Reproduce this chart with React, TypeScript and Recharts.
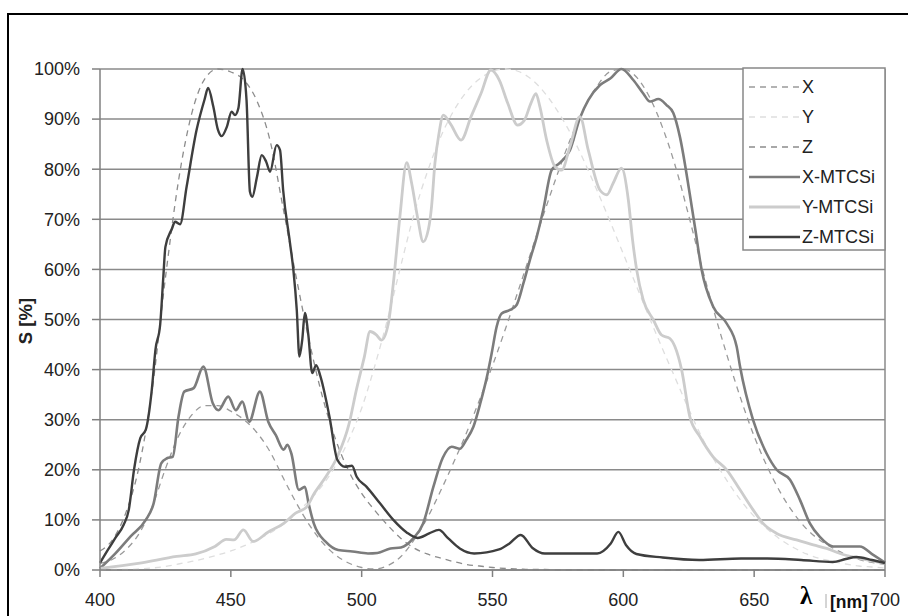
import { LineChart, Line, XAxis, YAxis, CartesianGrid, ReferenceLine } from "recharts";

// CIE 1931 colour matching functions (% of peak)
const cieNm = [
  400, 405, 410, 415, 420, 425, 430, 435, 440, 445, 450, 455, 460, 465, 470, 475, 480, 485, 490, 495,
  500, 505, 510, 515, 520, 525, 530, 535, 540, 545, 550, 555, 560, 565, 570, 575, 580, 585, 590, 595,
  600, 605, 610, 615, 620, 625, 630, 635, 640, 645, 650, 655, 660, 665, 670, 675, 680, 685, 690, 695, 700,
];
const xBar = [
  1.3, 2.2, 4.1, 7.3, 12.7, 20.2, 26.7, 30.9, 32.8, 32.8, 31.7, 30.0, 27.4, 23.6, 18.4, 13.4, 9.0, 5.5, 3.0, 1.4,
  0.5, 0.2, 0.9, 2.7, 6.0, 10.3, 15.6, 21.3, 27.3, 33.9, 40.8, 48.2, 56.0, 63.9, 71.7, 79.3, 86.3, 92.1, 96.6, 99.5,
  100, 98.4, 94.4, 88.3, 80.4, 70.7, 60.5, 51.0, 42.2, 34.0, 26.7, 20.6, 15.5, 11.4, 8.2, 6.0, 4.4, 3.1, 2.1, 1.5, 1.1,
];
const yBar = [
  0.0, 0.1, 0.1, 0.2, 0.4, 0.7, 1.2, 1.7, 2.3, 3.0, 3.8, 4.8, 6.0, 7.4, 9.1, 11.3, 13.9, 16.9, 20.8, 25.9,
  32.3, 40.7, 50.3, 60.8, 71.0, 79.3, 86.2, 91.5, 95.4, 98.0, 99.5, 100, 99.5, 97.9, 95.2, 91.5, 87.0, 81.6, 75.7, 69.5,
  63.1, 56.7, 50.3, 44.1, 38.1, 32.1, 26.5, 21.7, 17.5, 13.8, 10.7, 8.2, 6.1, 4.5, 3.2, 2.3, 1.7, 1.2, 0.8, 0.6, 0.4,
];
const zBar = [
  3.8, 6.2, 11.6, 20.8, 36.2, 58.3, 77.7, 91.0, 98.0, 100, 99.4, 97.8, 93.6, 85.7, 72.2, 58.4, 45.6, 34.6, 26.1, 19.8,
  15.3, 11.9, 8.9, 6.3, 4.4, 3.2, 2.4, 1.7, 1.1, 0.8, 0.5, 0.3, 0.2, 0.1, 0.1, 0, 0, 0, 0, 0,
  0, 0, 0, 0, 0, 0, 0, 0, 0, 0, 0, 0, 0, 0, 0, 0, 0, 0, 0, 0, 0,
];

// measured sensor curves
const xMtcsiNm = [
  400, 405.9, 411.7, 417.5, 420.5, 423.4, 425.6, 427.8, 430, 432.2, 435.8, 439.5, 443.1, 445.3, 449, 451.9,
  454.4, 457, 461.1, 464.3, 467.2, 470.2, 471.6, 473.1, 476, 478.3, 479.7, 481.7, 486.5, 491, 496.5, 502.4,
  506, 511, 515, 519.7, 523.5, 527.4, 531, 534.4, 537.5, 540, 542.7, 545.5, 547.8, 549.7, 551.6, 553.5,
  556.7, 559.2, 561.8, 564.3, 566.9, 569.4, 572.6, 575.6, 579.6, 583.4, 586.6, 591.1, 595, 599.3, 603.8,
  607.6, 610.2, 613.4, 616.5, 619.1, 621.6, 625.4, 627.5, 629.9, 634.3, 639.5, 643.3, 644.6, 649.6, 654.7,
  658.6, 663.7, 667.5, 671.3, 675.1, 680.2, 690.4, 695.5, 700,
];
const xMtcsiVal = [
  0.3, 3.3, 6.7, 10, 13.3, 21.3, 22.3, 22.6, 30.6, 35.6, 36.3, 40.6, 33.3, 31.9, 34.6, 31.9,
  33.6, 29.6, 35.6, 29.6, 26.9, 24, 25, 23.3, 16, 16.6, 13.3, 9.3, 5.5, 4, 3.7, 3.3,
  3.4, 4.3, 4.5, 6.3, 9.3, 16.6, 22.4, 24.6, 24.2, 26, 28.6, 33.6, 38.4, 43.3, 48.6, 51.2,
  51.9, 52.9, 57.2, 61.9, 66.5, 71.9, 79.8, 81.2, 83.8, 90.2, 93.8, 96.8, 98.1, 100, 97.8,
  95.1, 93.5, 94, 92.8, 91.2, 86.5, 75, 68, 60, 52.6, 49.2, 44.6, 40.6, 29.9, 23.3,
  20, 18, 14, 9.3, 6.6, 4.7, 4.7, 3, 1.5,
];

const yMtcsiNm = [
  400, 414.6, 429.3, 436.6, 443.9, 448.3, 451.2, 454.8, 458.5, 464.3, 470.2, 474.6, 479, 481.9, 486.3, 490.7,
  495.1, 498, 501, 503.2, 505.5, 507.6, 510.2, 512.1, 514.6, 517.2, 519.1, 521.5, 523.5, 525.5, 526.7, 528,
  529.5, 531.2, 534, 538, 541.8, 545.6, 549.4, 552.6, 555.8, 559.6, 562.2, 564.7, 566.6, 568.1, 570.7, 573.9,
  576.4, 579.6, 583.4, 586.6, 591.1, 593.7, 596.1, 599.3, 601.9, 603.5, 605.1, 607.6, 611.5, 614.6, 617.8,
  619.7, 622.3, 625.4, 629.3, 634.3, 639.5, 644.6, 649.6, 653.4, 658.6, 666.2, 672.6, 677.7, 682.8, 690.4, 700,
];
const yMtcsiVal = [
  0.3, 1.3, 2.7, 3.2, 4.7, 6.1, 6, 8, 5.7, 7.6, 9.3, 11.3, 12.6, 15.3, 18.6, 22.6,
  29, 36, 42.5, 47.6, 47, 45.9, 49.2, 57.2, 70.5, 81.3, 77.2, 70, 65.5, 68, 72.5, 81.2,
  87, 90.8, 89, 85.8, 90.5, 95.1, 99.8, 97.8, 93.2, 88.8, 89.8, 93.2, 95.1, 92.5, 85.8, 80.5,
  79.8, 84.5, 90.5, 83.8, 75.8, 74.9, 77.2, 80.2, 73.9, 66, 59.9, 53.9, 49.9, 46.9, 46.2,
  44.6, 39.9, 30.6, 26.6, 22.6, 20, 16, 12, 9.3, 7.3, 6, 5, 4.3, 3.3, 2.3, 1.3,
];

const zMtcsiNm = [
  400, 403, 406, 409, 411, 413, 415.4, 417.5, 419.8, 421.2, 423, 424.2, 425, 427.4, 428.7, 430.6,
  433.1, 436.9, 440, 441.3, 443.3, 445, 446.5, 448.5, 450.3, 451.6, 452.9, 454.5, 456, 457.3, 458.2, 460,
  461.8, 463.5, 465, 467.5, 468.8, 470, 472.6, 473.9, 475.2, 476.2, 477.3, 478.3, 479.6, 481.1, 482.6, 484.1,
  487.7, 490.7, 493.6, 496.3, 498.1, 501.9, 507, 512.1, 517.2, 521.4, 525.8, 529.5, 533.1, 537.5, 543,
  552.5, 556.5, 560.8, 565.3, 570, 590, 595.2, 598.1, 601, 605, 615, 629, 645, 655, 668, 680, 685, 689, 695, 700,
];
const zMtcsiVal = [
  1.4, 4, 6.5, 9, 12, 20, 26.3, 28, 36, 44, 49, 58.5, 64.5, 68, 69.5, 69,
  76.5, 87.8, 94, 96.2, 92.5, 88, 86.6, 88.5, 91.5, 90.8, 92.2, 100, 93.8, 75.5, 74.5, 78.5,
  82.8, 81.5, 79.5, 84.8, 83.8, 75.8, 65.3, 59.9, 51.9, 42.6, 46, 51.3, 47, 39.3, 40.9, 38.9,
  30.6, 22, 20.6, 20.8, 18.6, 16.6, 13.3, 10, 7.5, 6.4, 7.3, 8, 6.3, 4.3, 3.3,
  4.1, 5.3, 7, 4.4, 3.3, 3.3, 5.3, 7.6, 5, 3.2, 2.5, 2, 2.3, 2.3, 2, 1.6, 2.2, 2.6, 2, 1.4,
];

const xTicks = [400, 450, 500, 550, 600, 650, 700];
const yTicks = [0, 10, 20, 30, 40, 50, 60, 70, 80, 90, 100];
const legendNames = ["X", "Y", "Z", "X-MTCSi", "Y-MTCSi", "Z-MTCSi"];

const zip = (nm: number[], v: number[]) => nm.map((n, i) => ({ nm: n, s: v[i] }));

const series = [
  { name: legendNames[0], data: zip(cieNm, xBar), color: "#9a9a9a", width: 1.3, dash: "6 5" },
  { name: legendNames[1], data: zip(cieNm, yBar), color: "#dedede", width: 1.3, dash: "6 5" },
  { name: legendNames[2], data: zip(cieNm, zBar), color: "#8c8c8c", width: 1.3, dash: "6 5" },
  { name: legendNames[3], data: zip(xMtcsiNm, xMtcsiVal), color: "#7c7c7c", width: 2.6, dash: undefined },
  { name: legendNames[4], data: zip(yMtcsiNm, yMtcsiVal), color: "#cccccc", width: 2.8, dash: undefined },
  { name: legendNames[5], data: zip(zMtcsiNm, zMtcsiVal), color: "#3e3e3e", width: 2.4, dash: undefined },
];

const sans = "'Liberation Sans', Arial, Helvetica, sans-serif";
const tickStyle = { fill: "#222", fontSize: 18, fontFamily: sans };

export default function App() {
  return (
    <div style={{ position: "absolute", left: 0, top: 0, width: 908, height: 616, overflow: "hidden", background: "#fff" }}>
      <div style={{ position: "absolute", left: 7, top: 13, width: 920, height: 640, border: "2px solid #000" }} />
      <div style={{ position: "absolute", left: 0, top: 0 }}>
        <LineChart width={908} height={616} margin={{ top: 69, right: 23, bottom: 0, left: 10 }}>
          <CartesianGrid vertical={false} stroke="#8a8a8a" strokeWidth={1.5} />
          <XAxis
            type="number"
            dataKey="nm"
            domain={[400, 700]}
            ticks={xTicks}
            allowDuplicatedCategory={false}
            height={46}
            tickSize={7}
            tickMargin={16}
            tick={tickStyle}
            stroke="#808080"
            strokeWidth={1.5}
          />
          <YAxis
            type="number"
            domain={[0, 100]}
            ticks={yTicks}
            width={90}
            tickSize={8}
            tickMargin={12}
            tick={tickStyle}
            tickFormatter={(v: number) => `${v}%`}
            stroke="#808080"
            strokeWidth={1.5}
          />
          <ReferenceLine x={700} stroke="#8a8a8a" strokeWidth={1.5} />
          {series.map((s) => (
            <Line
              key={s.name}
              data={s.data}
              dataKey="s"
              name={s.name}
              type="monotone"
              stroke={s.color}
              strokeWidth={s.width}
              strokeDasharray={s.dash}
              dot={false}
              activeDot={false}
              isAnimationActive={false}
            />
          ))}
        </LineChart>
      </div>
      <svg width={908} height={616} style={{ position: "absolute", left: 0, top: 0, pointerEvents: "none" }}>
        <text
          x={25}
          y={321}
          transform="rotate(-90 25 321)"
          textAnchor="middle"
          dominantBaseline="central"
          fontFamily={sans}
          fontWeight="bold"
          fontSize={18.5}
          fill="#222"
        >
          S [%]
        </text>
        <rect x={743} y={68} width={142} height={182} fill="#fff" stroke="#888" strokeWidth={1.5} />
        {series.map((s, i) => (
          <g key={s.name}>
            <line x1={749} x2={800} y1={87 + i * 30} y2={87 + i * 30} stroke={s.color} strokeWidth={s.width} strokeDasharray={s.dash} />
            <text x={802} y={87 + i * 30} dy="0.35em" fontFamily={sans} fontSize={18} fill="#222">
              {s.name}
            </text>
          </g>
        ))}
        <text x={800} y={604} fontFamily="'Liberation Serif', 'DejaVu Serif', serif" fontWeight="bold" fontSize={25} fill="#000">
          λ
        </text>
        <line x1={826} x2={826} y1={594} y2={608} stroke="#aaa" strokeWidth={1} />
        <text x={830} y={608} fontFamily={sans} fontWeight="bold" fontSize={17.5} fill="#111">
          [nm]
        </text>
      </svg>
    </div>
  );
}
